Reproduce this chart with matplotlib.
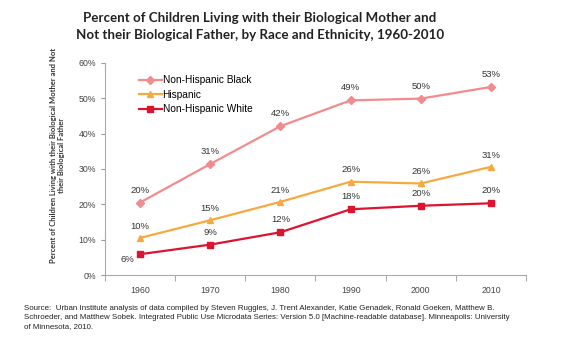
import numpy as np
import matplotlib.pyplot as plt
from matplotlib.ticker import FixedLocator, PercentFormatter

years = [1960, 1970, 1980, 1990, 2000, 2010]
black = [20.5, 31.4, 42.1, 49.4, 49.9, 53.2]
hispanic = [10.5, 15.5, 20.7, 26.4, 25.9, 30.6]
white = [5.9, 8.6, 12.1, 18.6, 19.6, 20.3]
black_lbl = ['20%', '31%', '42%', '49%', '50%', '53%']
hisp_lbl = ['10%', '15%', '21%', '26%', '26%', '31%']
white_lbl = ['6%', '9%', '12%', '18%', '20%', '20%']

fig = plt.figure(figsize=(5.7, 3.4), dpi=100)
ax = fig.add_axes([0.184, 0.191, 0.739, 0.624])

c_black = '#F28B8E'
c_hisp = '#F6A93F'
c_white = '#DC1430'

ax.plot(years, black, color=c_black, marker='D', ms=4, lw=1.6, label='Non-Hispanic Black')
ax.plot(years, hispanic, color=c_hisp, marker='^', ms=5, lw=1.6, label='Hispanic')
ax.plot(years, white, color=c_white, marker='s', ms=4, lw=1.6, label='Non-Hispanic White')

# value labels
lab = dict(fontsize=6.8, color='#333333', ha='center', va='center', family='Liberation Sans')
for x, y, t in zip(years, black, black_lbl):
    ax.annotate(t, (x, y), xytext=(0, 9), textcoords='offset points', **lab)
for x, y, t in zip(years, hispanic, hisp_lbl):
    ax.annotate(t, (x, y), xytext=(0, 8.5), textcoords='offset points', **lab)
for i, (x, y, t) in enumerate(zip(years, white, white_lbl)):
    off = (-9, -4) if i == 0 else (0, 9)
    ax.annotate(t, (x, y), xytext=off, textcoords='offset points', **lab)

ax.set_xlim(1955, 2015)
ax.set_ylim(0, 60)
ax.set_xticks(years)
ax.xaxis.set_minor_locator(FixedLocator(np.arange(1955, 2016, 10)))
ax.tick_params(axis='x', which='major', length=0, pad=8)
ax.tick_params(axis='x', which='minor', length=4, color='#999999')
ax.set_yticks(range(0, 61, 10))
ax.yaxis.set_major_formatter(PercentFormatter(decimals=0))
ax.tick_params(axis='y', length=3, color='#999999')
for lbl in ax.get_xticklabels() + ax.get_yticklabels():
    lbl.set_fontsize(6.3)
    lbl.set_color('#444444')
    lbl.set_family('Liberation Sans')
for s in ['top', 'right']:
    ax.spines[s].set_visible(False)
for s in ['left', 'bottom']:
    ax.spines[s].set_color('#aaaaaa')
    ax.spines[s].set_linewidth(0.8)

ax.legend(loc='upper left', bbox_to_anchor=(0.06, 0.985), frameon=False,
          prop={'family': 'Liberation Sans', 'size': 7.3}, handlelength=2.2,
          handletextpad=0.1, labelspacing=0.45)

fig.text(0.101, 0.543, 'Percent of Children Living with their Biological Mother and Not\ntheir Biological Father',
         rotation=90, ha='center', va='center', fontsize=5.5, fontweight='bold',
         family='Lato', color='#333333')

fig.text(0.456, 0.922, 'Percent of Children Living with their Biological Mother and\n'
         'Not their Biological Father, by Race and Ethnicity, 1960-2010',
         ha='center', va='center', fontsize=9.6, fontweight='bold', family='Lato',
         color='#222222', linespacing=1.55)

fig.text(0.042, 0.03, 'Source:  Urban Institute analysis of data compiled by Steven Ruggles, J. Trent Alexander, Katie Genadek, Ronald Goeken, Matthew B.\n'
         'Schroeder, and Matthew Sobek. Integrated Public Use Microdata Series: Version 5.0 [Machine-readable database]. Minneapolis: University\n'
         'of Minnesota, 2010.', ha='left', va='bottom', fontsize=5.7, family='Liberation Sans',
         color='#222222', linespacing=1.4)

fig.savefig('out.png', dpi=100)
